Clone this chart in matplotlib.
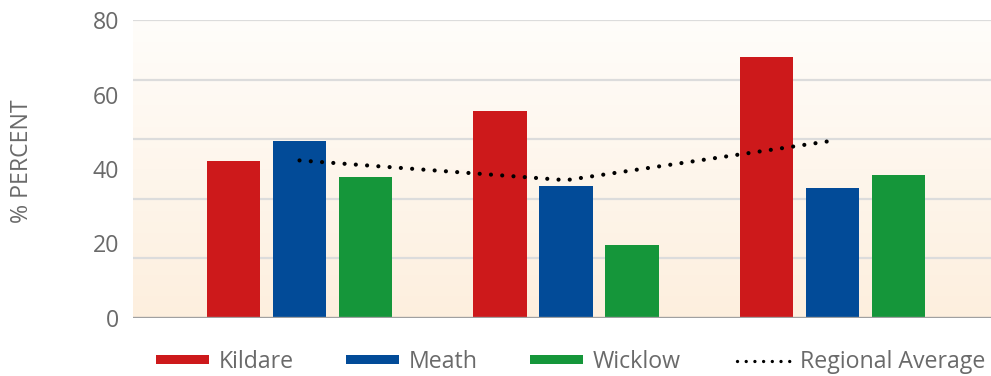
import numpy as np
import matplotlib
matplotlib.use("Agg")
import matplotlib.pyplot as plt
from matplotlib.patches import Patch
from matplotlib.lines import Line2D

plt.rcParams['font.family'] = ['Open Sans', 'DejaVu Sans']

categories = ['Group 1', 'Group 2', 'Group 3']
kildare = [42.1, 55.6, 70.1]
meath = [47.5, 35.4, 34.9]
wicklow = [37.9, 19.6, 38.4]
regional_avg = [42.3, 37.0, 47.6]
series_names = ['Kildare', 'Meath', 'Wicklow', 'Regional Average']
ytick_values = [0, 20, 40, 60, 80]
grid_levels = [16, 32, 48, 64, 80]

colors = ['#CD191B', '#024B98', '#15963A']
text_color = '#6a6a6a'
fs = 16.7

W, H = 991, 376
fig = plt.figure(figsize=(W / 100, H / 100), dpi=100)
ax = fig.add_axes([133 / W, 1 - 318 / H, 1 - 133 / W, (318 - 20) / H])

x = np.arange(len(categories))
bw = 0.199
off = 0.2477

# background gradient
grad = np.linspace(0, 1, 256).reshape(-1, 1)
top = np.array([255, 253, 250]) / 255
bot = np.array([253, 239, 222]) / 255
img = top[None, None, :] * (1 - grad[:, :, None]) + bot[None, None, :] * grad[:, :, None]
ax.imshow(img, extent=[0, 1, 0, 1], transform=ax.transAxes, aspect='auto', zorder=0)

for g in grid_levels:
    ax.axhline(g, color='#dcdcdc', lw=1.6, zorder=1)

for i, (vals, c) in enumerate(zip([kildare, meath, wicklow], colors)):
    ax.bar(x + (i - 1) * off, vals, width=bw, color=c, zorder=2)

ax.plot(x, regional_avg, color='black', lw=3.0, linestyle=(0, (0.01, 2.7)),
        dash_capstyle='round', zorder=3)

ax.axhline(0, color='#a0a0a0', lw=2.4, zorder=4)

ax.set_xlim((133 - 299.5) / 266.5, (991 - 299.5) / 266.5)
ax.set_ylim(0, 80)
ax.set_yticks(ytick_values)
ax.set_yticklabels([str(v) for v in ytick_values], fontsize=fs, color=text_color)
ax.tick_params(axis='y', length=0, pad=10)
ax.set_xticks([])
for s in ax.spines.values():
    s.set_visible(False)

fig.text(22 / W, 1 - 161 / H, '% PERCENT', rotation=90, ha='center', va='center',
         fontsize=fs, color=text_color)

handles = [Patch(facecolor=c) for c in colors]
handles.append(Line2D([0], [0], color='black', lw=2.4, linestyle=(0, (0.01, 2.6)),
                      dash_capstyle='round'))
lefts = [156, 346, 530, 737]
for h, name, lx in zip(handles, series_names, lefts):
    leg = fig.legend([h], [name], loc='center left',
                     bbox_to_anchor=(lx / W, 1 - 362 / H), frameon=False,
                     borderpad=0, borderaxespad=0, handlelength=2.3,
                     handleheight=0.25, handletextpad=0.4, fontsize=fs,
                     labelcolor=text_color)

fig.savefig('out.png', dpi=100)
